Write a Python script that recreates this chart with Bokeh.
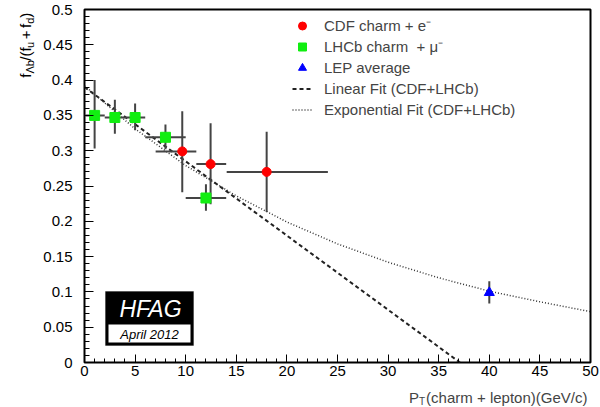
import math
from bokeh.plotting import figure
from bokeh.layouts import row, column
from bokeh.core.properties import value
from bokeh.models import (Range1d, SingleIntervalTicker, NumeralTickFormatter,
                          Legend, LegendItem, Label, BoxAnnotation)
from bokeh.embed import file_html
from bokeh.resources import INLINE

# ---------------- data ----------------
cdf_x = [9.66, 12.46, 18.0]
cdf_y = [0.299, 0.281, 0.270]
cdf_xlo = [7.03, 11.05, 14.05]
cdf_xhi = [11.05, 14.0, 24.05]
cdf_ylo = [0.241, 0.224, 0.213]
cdf_yhi = [0.356, 0.339, 0.327]

lhcb_x = [1.0, 3.0, 5.0, 8.0, 12.0]
lhcb_y = [0.350, 0.347, 0.347, 0.319, 0.233]
lhcb_xlo = [0.0, 2.0, 4.0, 6.0, 10.0]
lhcb_xhi = [2.0, 4.0, 6.0, 10.0, 14.0]
lhcb_ylo = [0.303, 0.324, 0.329, 0.302, 0.215]
lhcb_yhi = [0.400, 0.372, 0.367, 0.337, 0.2525]

lep_x = [40.0]
lep_y = [0.099]
lep_ylo = [0.0836]
lep_yhi = [0.115]

lin_x = [0.0, 37.1]
lin_y = [0.390, 0.0]

exp_x = [0, 5, 10, 15, 20, 25, 30, 35, 40, 45, 50]
exp_y = [0.392, 0.331, 0.279, 0.236, 0.199, 0.168, 0.142, 0.120, 0.101, 0.086, 0.072]

legend_labels = ["CDF charm + e\u207b", "LHCb charm  + \u03bc\u207b", "LEP average",
                 "Linear Fit (CDF+LHCb)", "Exponential Fit (CDF+LHCb)"]

FONT = "Liberation Sans"
W, H = 600, 407
STRIP_W = 40          # left strip holding the y-axis title
XT_H = 22             # bottom strip holding the x-axis title
MAIN_H = H - XT_H     # 385
BL, BR, BT, BB = 83 - STRIP_W, 10, 9, MAIN_H - 362
FB = 362              # canvas y of frame bottom
FL = 83               # canvas x of frame left


def sx(cx):
    return cx - FL


def sy(cy):
    return FB - cy


p = figure(width=W - STRIP_W, height=MAIN_H, x_range=Range1d(0, 50), y_range=Range1d(0, 0.5),
           output_backend="svg", toolbar_location=None,
           min_border_left=BL, min_border_right=BR, min_border_top=BT, min_border_bottom=BB)
p.grid.visible = False
p.outline_line_color = "black"
p.outline_line_width = 2
p.background_fill_color = "white"
p.border_fill_color = "white"

p.xaxis.ticker = SingleIntervalTicker(interval=5, num_minor_ticks=5)
p.yaxis.ticker = SingleIntervalTicker(interval=0.05, num_minor_ticks=5)
p.yaxis.formatter = NumeralTickFormatter(format="0.[00]")
for ax in (p.xaxis[0], p.yaxis[0]):
    ax.axis_line_color = None
    ax.major_tick_out = 0
    ax.minor_tick_out = 0
    ax.major_tick_line_color = "black"
    ax.minor_tick_line_color = "black"
    ax.major_label_text_font = FONT
    ax.major_label_text_font_size = "15px"
    ax.major_label_text_color = "black"
p.xaxis.major_tick_in = 8
p.xaxis.minor_tick_in = 4
p.yaxis.major_tick_in = 9
p.yaxis.minor_tick_in = 5
p.yaxis.major_label_standoff = 12
p.xaxis.major_label_standoff = 3

# fits
r_lin = p.line(lin_x, lin_y, line_color="#222222", line_width=2, line_dash="4 3")
r_exp = p.line(exp_x, exp_y, line_color="#333333", line_width=1.5, line_dash="1 2")

ebc = "#444444"
# error bars
p.segment(cdf_xlo, cdf_y, cdf_xhi, cdf_y, line_color=ebc, line_width=2)
p.segment(cdf_x, cdf_ylo, cdf_x, cdf_yhi, line_color=ebc, line_width=2)
p.segment(lhcb_xlo, lhcb_y, lhcb_xhi, lhcb_y, line_color=ebc, line_width=2)
p.segment(lhcb_x, lhcb_ylo, lhcb_x, lhcb_yhi, line_color=ebc, line_width=2)
p.segment(lep_x, lep_ylo, lep_x, lep_yhi, line_color=ebc, line_width=2)

# markers
r_cdf = p.scatter(cdf_x, cdf_y, marker="circle", size=9, fill_color="#ff0000", line_color="#ff0000")
r_lhcb = p.scatter(lhcb_x, lhcb_y, marker="square", size=10, fill_color="#11ee11", line_color="#11ee11")
r_lep = p.scatter(lep_x, lep_y, marker="triangle", size=10, fill_color="#0000ff", line_color="#0000ff")

legend = Legend(items=[LegendItem(label=legend_labels[0], renderers=[r_cdf]),
                       LegendItem(label=legend_labels[1], renderers=[r_lhcb]),
                       LegendItem(label=legend_labels[2], renderers=[r_lep]),
                       LegendItem(label=legend_labels[3], renderers=[r_lin]),
                       LegendItem(label=legend_labels[4], renderers=[r_exp])],
                location=(sx(291), sy(119.5)),
                glyph_width=20, glyph_height=21, label_height=21, spacing=0,
                padding=0, margin=0, label_standoff=12,
                label_text_font=FONT, label_text_font_size="15px",
                border_line_alpha=0, background_fill_alpha=0)
p.add_layout(legend, "center")

# HFAG logo
p.add_layout(BoxAnnotation(left=sx(104), right=sx(192), top=sy(291), bottom=sy(345),
                           left_units="screen", right_units="screen", top_units="screen",
                           bottom_units="screen", fill_color="black", fill_alpha=1,
                           line_color="black"))
p.add_layout(BoxAnnotation(left=sx(107), right=sx(189), top=sy(324), bottom=sy(342),
                           left_units="screen", right_units="screen", top_units="screen",
                           bottom_units="screen", fill_color="white", fill_alpha=1,
                           line_color="white", line_width=0))
p.add_layout(Label(x=sx(149), y=sy(308), x_units="screen", y_units="screen", text="HFAG",
                   text_font=FONT, text_font_size="23px", text_font_style="italic",
                   text_color="white", text_align="center", text_baseline="middle"))
p.add_layout(Label(x=sx(148), y=sy(333.5), x_units="screen", y_units="screen", text="April 2012",
                   text_font=FONT, text_font_size="13px", text_font_style="italic",
                   text_color="black", text_align="center", text_baseline="middle"))

MAIN, SUB = 15, 10


def em(s, size):
    wd = {"f": .278, "\u039b": .667, "b": .556, "/": .278, "(": .333, ")": .333, "u": .556,
          " ": .278, "+": .584, "d": .556, "P": .667, "T": .611}
    return sum(wd.get(c, .556) for c in s) * size


def strip(width, height):
    f = figure(width=width, height=height, x_range=Range1d(0, width), y_range=Range1d(0, height),
               output_backend="svg", toolbar_location=None,
               x_axis_location=None, y_axis_location=None,
               min_border=0, min_border_left=0, min_border_right=0,
               min_border_top=0, min_border_bottom=0)
    f.grid.visible = False
    f.outline_line_color = None
    f.background_fill_color = "white"
    f.border_fill_color = "white"
    return f


# ---- left strip: y axis title f_Λb/(f_u + f_d), rotated (text glyphs) ----
ys = strip(STRIP_W, MAIN_H)
pieces = [("f", False, 0.0), ("\u039bb", True, 0.5), ("/(f", False, 0.5), ("u", True, 0.5),
          ("+", False, 3.5), ("f", False, 3.5), ("d", True, 0.5), (")", False, 0.5)]
ycan = 74.5
bx = 25.0
main_t, main_x, main_y = [], [], []
sub_t, sub_x, sub_y = [], [], []
for txt, sub, gap in pieces:
    ycan -= gap
    size = SUB + 1 if sub else MAIN
    if sub:
        sub_t.append(txt); sub_x.append(bx + 4); sub_y.append(MAIN_H - ycan)
    else:
        main_t.append(txt); main_x.append(bx); main_y.append(MAIN_H - ycan)
    ycan -= em(txt, size)
ys.text(x=main_x, y=main_y, text=main_t, angle=math.pi / 2, text_font=value(FONT),
        text_font_size=value(f"{MAIN}px"), text_baseline="alphabetic", text_align="left",
        text_color="black")
ys.text(x=sub_x, y=sub_y, text=sub_t, angle=math.pi / 2, text_font=value(FONT),
        text_font_size=value(f"{SUB + 1}px"), text_baseline="alphabetic", text_align="left",
        text_color="black")

# ---- bottom strip: x axis title P_T(charm + lepton)(GeV/c) ----
xs = strip(W, XT_H)
base = 396.5


def bsy(cy):
    return H - cy


x0 = 408.5
xs.add_layout(Label(x=x0, y=bsy(base), x_units="screen", y_units="screen", text="P",
                    text_font=FONT, text_font_size=f"{MAIN}px", text_baseline="alphabetic"))
x0 += em("P", MAIN)
xs.add_layout(Label(x=x0, y=bsy(base + 4.5), x_units="screen", y_units="screen", text="T",
                    text_font=FONT, text_font_size=f"{SUB}px", text_baseline="alphabetic"))
x0 += em("T", SUB) + 1
xs.add_layout(Label(x=x0, y=bsy(base), x_units="screen", y_units="screen",
                    text="(charm + lepton)(GeV/c)",
                    text_font=FONT, text_font_size=f"{MAIN}px", text_baseline="alphabetic"))

layout = column(row(ys, p, spacing=0), xs, spacing=0)
open("out.html", "w").write(file_html(layout, INLINE))
